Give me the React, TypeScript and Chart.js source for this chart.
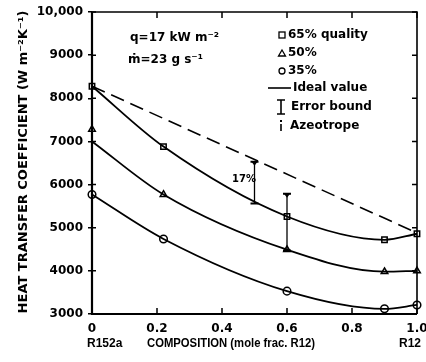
import React, { useEffect, useRef } from 'react';
import { Chart, registerables } from 'chart.js';

Chart.register(...registerables);

// ---- data ----
const xTicks = [0, 0.2, 0.4, 0.6, 0.8, 1.0];
const xTickLabels = ['0', '0.2', '0.4', '0.6', '0.8', '1.0'];
const yTicks = [3000, 4000, 5000, 6000, 7000, 8000, 9000, 10000];
const yTickLabels = ['3000', '4000', '5000', '6000', '7000', '8000', '9000', '10,000'];

// 65% quality (squares)
const q65X = [0, 0.22, 0.6, 0.9, 1.0];
const q65Y = [8280, 6880, 5260, 4720, 4860];
// 50% quality (triangles): fitted curve and measured markers
const q50CurveX = [0, 0.22, 0.6, 0.9, 1.0];
const q50CurveY = [7000, 5770, 4490, 3980, 4000];
const q50MarkX = [0, 0.22, 0.6, 0.9, 1.0];
const q50MarkY = [7280, 5770, 4490, 3980, 4000];
// 35% quality (circles)
const q35X = [0, 0.22, 0.6, 0.9, 1.0];
const q35Y = [5770, 4740, 3530, 3120, 3210];
// ideal value (dashed)
const idealX = [0, 1.0];
const idealY = [8280, 4880];
// error bound bars
const errX = [0.5, 0.6];
const errLow = [5560, 4470];
const errHigh = [6530, 5790];

const pts = (xs: number[], ys: number[]) => xs.map((x, i) => ({ x, y: ys[i] }));

const BOLD = 'bold 12px "DejaVu Sans", sans-serif';

const decor = {
  id: 'decor',
  afterDatasetsDraw(chart: any) {
    const { ctx, chartArea: a, scales } = chart;
    const x = scales.x;
    const y = scales.y;
    ctx.save();
    ctx.strokeStyle = '#000';
    ctx.fillStyle = '#000';
    ctx.setLineDash([]);
    // frame
    ctx.lineWidth = 2.2;
    ctx.beginPath();
    ctx.moveTo(a.left, a.top);
    ctx.lineTo(a.left, a.bottom);
    ctx.lineTo(a.right, a.bottom);
    ctx.stroke();
    ctx.lineWidth = 1.6;
    ctx.beginPath();
    ctx.moveTo(a.left, a.top);
    ctx.lineTo(a.right, a.top);
    ctx.lineTo(a.right, a.bottom);
    ctx.stroke();
    // inward ticks
    ctx.lineWidth = 1.5;
    yTicks.forEach((v) => {
      const py = y.getPixelForValue(v);
      ctx.beginPath();
      ctx.moveTo(a.left, py);
      ctx.lineTo(a.left + 4, py);
      ctx.moveTo(a.right, py);
      ctx.lineTo(a.right - 5, py);
      ctx.stroke();
    });
    xTicks.forEach((v) => {
      const px = x.getPixelForValue(v);
      ctx.beginPath();
      ctx.moveTo(px, a.bottom);
      ctx.lineTo(px, a.bottom - 6);
      ctx.moveTo(px, a.top);
      ctx.lineTo(px, a.top + 6);
      ctx.stroke();
    });
    // error bars
    errX.forEach((v, i) => {
      const px = x.getPixelForValue(v);
      const t = y.getPixelForValue(errHigh[i]);
      const b = y.getPixelForValue(errLow[i]);
      ctx.lineWidth = 1.3;
      ctx.beginPath();
      ctx.moveTo(px, t);
      ctx.lineTo(px, b);
      ctx.stroke();
      ctx.lineWidth = 2;
      ctx.beginPath();
      ctx.moveTo(px - 4, t);
      ctx.lineTo(px + 4, t);
      ctx.moveTo(px - 4, b);
      ctx.lineTo(px + 4, b);
      ctx.stroke();
      // small wedge under the top cap
      ctx.beginPath();
      ctx.moveTo(px - 3, t);
      ctx.lineTo(px + 3, t);
      ctx.lineTo(px, t + 4);
      ctx.closePath();
      ctx.fill();
    });

    // texts
    ctx.textBaseline = 'middle';
    ctx.textAlign = 'left';
    ctx.font = 'bold 10px "DejaVu Sans", sans-serif';
    ctx.fillText('17%', 232, 179);
    ctx.font = BOLD;
    ctx.fillText('q=17 kW m\u207B\u00B2', 130, 38);
    ctx.fillText('\u1E41=23 g s\u207B\u00B9', 128, 60);

    // legend
    const lx = 282;
    ctx.lineWidth = 1.3;
    // square
    ctx.strokeRect(lx - 3, 35 - 3, 6, 6);
    // triangle
    ctx.beginPath();
    ctx.moveTo(lx, 50);
    ctx.lineTo(lx + 3.5, 56);
    ctx.lineTo(lx - 3.5, 56);
    ctx.closePath();
    ctx.stroke();
    // circle
    ctx.beginPath();
    ctx.arc(lx, 71, 3, 0, Math.PI * 2);
    ctx.stroke();
    // dash
    ctx.lineWidth = 1.6;
    ctx.beginPath();
    ctx.moveTo(268, 88);
    ctx.lineTo(291, 88);
    ctx.stroke();
    // error bound symbol
    ctx.beginPath();
    ctx.moveTo(281, 100);
    ctx.lineTo(281, 114);
    ctx.moveTo(277, 100);
    ctx.lineTo(285, 100);
    ctx.moveTo(277, 114);
    ctx.lineTo(285, 114);
    ctx.stroke();
    // azeotrope symbol
    ctx.beginPath();
    ctx.moveTo(281, 124);
    ctx.lineTo(281, 131);
    ctx.stroke();
    ctx.fillRect(280, 120, 2, 2);

    ctx.fillText('65% quality', 288, 35);
    ctx.fillText('50%', 288, 53);
    ctx.fillText('35%', 288, 71);
    ctx.fillText('Ideal value', 293, 88);
    ctx.fillText('Error bound', 291, 107);
    ctx.fillText('Azeotrope', 290, 126);

    // axis titles
    ctx.font = 'bold 12px "Liberation Sans", Arial, sans-serif';
    ctx.fillText('R152a', 87, 344);
    ctx.fillText('COMPOSITION (mole frac. R12)', 147, 344, 168);
    ctx.fillText('R12', 399, 344);

    ctx.font = 'bold 13px "DejaVu Sans", sans-serif';
    ctx.save();
    ctx.translate(24, 162);
    ctx.rotate(-Math.PI / 2);
    ctx.textAlign = 'center';
    ctx.fillText('HEAT TRANSFER COEFFICIENT (W m\u207B\u00B2K\u207B\u00B9)', 0, 0, 305);
    ctx.restore();

    ctx.restore();
  },
};

export default function App() {
  const ref = useRef<HTMLCanvasElement>(null);
  useEffect(() => {
    document.body.style.margin = '0';
    const marker = (style: string) => ({
      showLine: false,
      pointStyle: style,
      pointRadius: 3.8,
      pointBorderWidth: 1.5,
      pointBackgroundColor: '#fff',
      pointBorderColor: '#000',
      clip: false as any,
    });
    const curve = {
      showLine: true,
      pointRadius: 0,
      borderColor: '#000',
      borderWidth: 1.8,
      cubicInterpolationMode: 'monotone' as const,
      clip: false as any,
    };
    const chart = new Chart(ref.current!, {
      type: 'scatter',
      data: {
        datasets: [
          { label: 'Ideal value', data: pts(idealX, idealY), ...curve, borderDash: [14, 7], borderWidth: 1.6 },
          { label: '65% curve', data: pts(q65X, q65Y), ...curve },
          { label: '50% curve', data: pts(q50CurveX, q50CurveY), ...curve },
          { label: '35% curve', data: pts(q35X, q35Y), ...curve },
          { label: '65% quality', data: pts(q65X, q65Y), ...marker('rect') },
          { label: '50%', data: pts(q50MarkX, q50MarkY), ...marker('triangle') },
          { label: '35%', data: pts(q35X, q35Y), ...marker('circle') },
        ] as any,
      },
      options: {
        responsive: false,
        animation: false,
        layout: { padding: { top: 12, right: 9, left: 0, bottom: 0 } },
        plugins: { legend: { display: false }, tooltip: { enabled: false } },
        scales: {
          x: {
            type: 'linear',
            min: 0,
            max: 1.0,
            border: { display: false },
            grid: { display: false, drawTicks: false },
            afterBuildTicks: (s: any) => {
              s.ticks = xTicks.map((v) => ({ value: v }));
            },
            ticks: {
              color: '#000',
              font: { family: '"DejaVu Sans", sans-serif', weight: 'bold', size: 12 },
              padding: 8,
              maxRotation: 0,
              callback: (v: any) => xTickLabels[xTicks.indexOf(v)] ?? '',
            },
            afterFit: (s: any) => {
              s.height = 48;
              s.paddingLeft = 0;
              s.paddingRight = 0;
            },
          },
          y: {
            type: 'linear',
            min: 3000,
            max: 10000,
            border: { display: false },
            grid: { drawOnChartArea: false, drawTicks: true, tickLength: 4, color: '#000', lineWidth: 1.5 },
            afterBuildTicks: (s: any) => {
              s.ticks = yTicks.map((v) => ({ value: v }));
            },
            ticks: {
              color: '#000',
              font: { family: '"DejaVu Sans", sans-serif', weight: 'bold', size: 12 },
              padding: 5,
              callback: (v: any) => yTickLabels[yTicks.indexOf(v)] ?? '',
            },
            afterFit: (s: any) => {
              s.width = 92;
              s.paddingTop = 0;
              s.paddingBottom = 0;
            },
          },
        },
      },
      plugins: [decor],
    });
    return () => chart.destroy();
  }, []);
  return (
    <div style={{ width: 426, height: 362, background: '#fff' }}>
      <canvas ref={ref} width={426} height={362} />
    </div>
  );
}
